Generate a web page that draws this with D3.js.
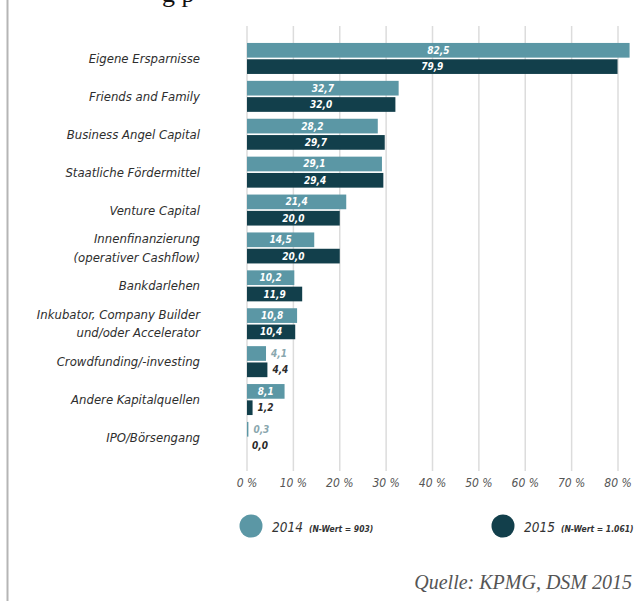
<!DOCTYPE html>
<html>
<head>
<meta charset="utf-8">
<script src="https://cdn.jsdelivr.net/npm/d3@7"></script>
<style>
  body { margin: 0; background: #fff; }
  svg { display: block; }
  .cat { font-family: "DejaVu Sans Condensed", "DejaVu Sans", sans-serif; font-stretch: condensed; font-style: italic; font-size: 13px; fill: #2e2e2e; }
  .val { font-family: "DejaVu Sans Condensed", "DejaVu Sans", sans-serif; font-stretch: condensed; font-style: italic; font-weight: bold; font-size: 10px; }
  .tick-label { font-family: "DejaVu Sans Condensed", "DejaVu Sans", sans-serif; font-stretch: condensed; font-style: italic; font-size: 12px; fill: #555; }
  .legend { font-family: "DejaVu Sans Condensed", "DejaVu Sans", sans-serif; font-stretch: condensed; font-style: italic; fill: #333; }
</style>
</head>
<body>
<svg width="636" height="601"></svg>
<script>
var categories = [
    "Eigene Ersparnisse",
    "Friends and Family",
    "Business Angel Capital",
    "Staatliche Fördermittel",
    "Venture Capital",
    "Innenfinanzierung|(operativer Cashflow)",
    "Bankdarlehen",
    "Inkubator, Company Builder|und/oder Accelerator",
    "Crowdfunding/-investing",
    "Andere Kapitalquellen",
    "IPO/Börsengang"
];
var values2014 = [82.5, 32.7, 28.2, 29.1, 21.4, 14.5, 10.2, 10.8, 4.1, 8.1, 0.3];
var values2015 = [79.9, 32.0, 29.7, 29.4, 20.0, 20.0, 11.9, 10.4, 4.4, 1.2, 0.0];
var series = ["2014", "2015"];
var seriesNote = ["(N-Wert = 903)", "(N-Wert = 1.061)"];
var ticks = [0, 10, 20, 30, 40, 50, 60, 70, 80];

var svg = d3.select("svg"),
    colors = {"2014": "#5b97a5", "2015": "#123f4b"},
    outsideColors = {"2014": "#8aa7ae", "2015": "#2a2a2a"};

// left page border
svg.append("line")
    .attr("x1", 7.5).attr("x2", 7.5)
    .attr("y1", 0).attr("y2", 601)
    .attr("stroke", "#b5b5b5").attr("stroke-width", 2);

// cut-off heading from the page above
svg.append("text")
    .attr("x", 162).attr("y", 2)
    .attr("font-family", "Liberation Serif, serif")
    .attr("font-size", 26)
    .attr("fill", "#111")
    .text("g p");

var x = d3.scaleLinear().domain([0, 80]).range([247, 618]);
var y = d3.scaleBand().domain(d3.range(categories.length))
    .range([39.5, 456.4]).paddingInner(0.182).paddingOuter(0.091);
var ySub = d3.scaleBand().domain(series).range([0, y.bandwidth()]).paddingInner(0.1);

// gridlines
svg.append("g").selectAll("line")
    .data(ticks)
    .enter().append("line")
    .attr("x1", d => x(d)).attr("x2", d => x(d))
    .attr("y1", 26).attr("y2", 471)
    .attr("stroke", "#dcdcdc").attr("stroke-width", 1.5);

svg.append("g").selectAll("text")
    .data(ticks)
    .enter().append("text")
    .attr("class", "tick-label")
    .attr("x", d => x(d))
    .attr("y", 487)
    .attr("text-anchor", "middle")
    .text(d => d + " %");

// category labels
var cat = svg.append("g").selectAll("text")
    .data(categories)
    .enter().append("text")
    .attr("class", "cat")
    .attr("text-anchor", "end")
    .attr("x", 200)
    .attr("y", (d, i) => y(i) + y.bandwidth() / 2);

cat.each(function (d) {
    var lines = d.split("|");
    var t = d3.select(this);
    lines.forEach((l, k) => {
        t.append("tspan")
            .attr("x", 200)
            .attr("dy", k == 0 ? (lines.length == 1 ? "0.35em" : (0.35 - 0.7) + "em") : "1.4em")
            .text(l);
    });
});

// bars
var rows = categories.map((c, i) => ({i: i, vals: [values2014[i], values2015[i]]}));
var groups = svg.append("g").selectAll("g")
    .data(rows)
    .enter().append("g")
    .attr("transform", d => "translate(0," + y(d.i) + ")");

var fmt = d3.format(".1f");
groups.each(function (d) {
    var g = d3.select(this);
    series.forEach((s, k) => {
        var v = d.vals[k];
        g.append("rect")
            .attr("x", x(0))
            .attr("y", ySub(s))
            .attr("width", x(v) - x(0))
            .attr("height", ySub.bandwidth())
            .attr("fill", colors[s]);
        var inside = v > 6;
        g.append("text")
            .attr("class", "val")
            .attr("x", inside ? (x(0) + x(v)) / 2 : x(v) + 5)
            .attr("y", ySub(s) + ySub.bandwidth() / 2)
            .attr("dy", "0.35em")
            .attr("text-anchor", inside ? "middle" : "start")
            .attr("fill", inside ? "#fff" : outsideColors[s])
            .text(fmt(v).replace(".", ","));
    });
});

// legend
var legendX = [251, 503];
var legend = svg.append("g").selectAll("g")
    .data(series)
    .enter().append("g")
    .attr("transform", (d, i) => "translate(" + legendX[i] + ",526)");

legend.append("circle")
    .attr("r", 11.5)
    .attr("fill", d => colors[d]);

var lt = legend.append("text")
    .attr("class", "legend")
    .attr("x", 21)
    .attr("dy", "0.35em");
lt.append("tspan").attr("font-size", 13.5).text(d => d);
lt.append("tspan").attr("font-size", 8.5).attr("font-weight", "bold")
    .attr("dx", 6)
    .text((d, i) => seriesNote[i]);

// source
svg.append("text")
    .attr("x", 632)
    .attr("y", 589)
    .attr("text-anchor", "end")
    .attr("font-family", "Liberation Serif, serif")
    .attr("font-style", "italic")
    .attr("font-size", 20)
    .attr("fill", "#555")
    .text("Quelle: KPMG, DSM 2015");
</script>
</body>
</html>
